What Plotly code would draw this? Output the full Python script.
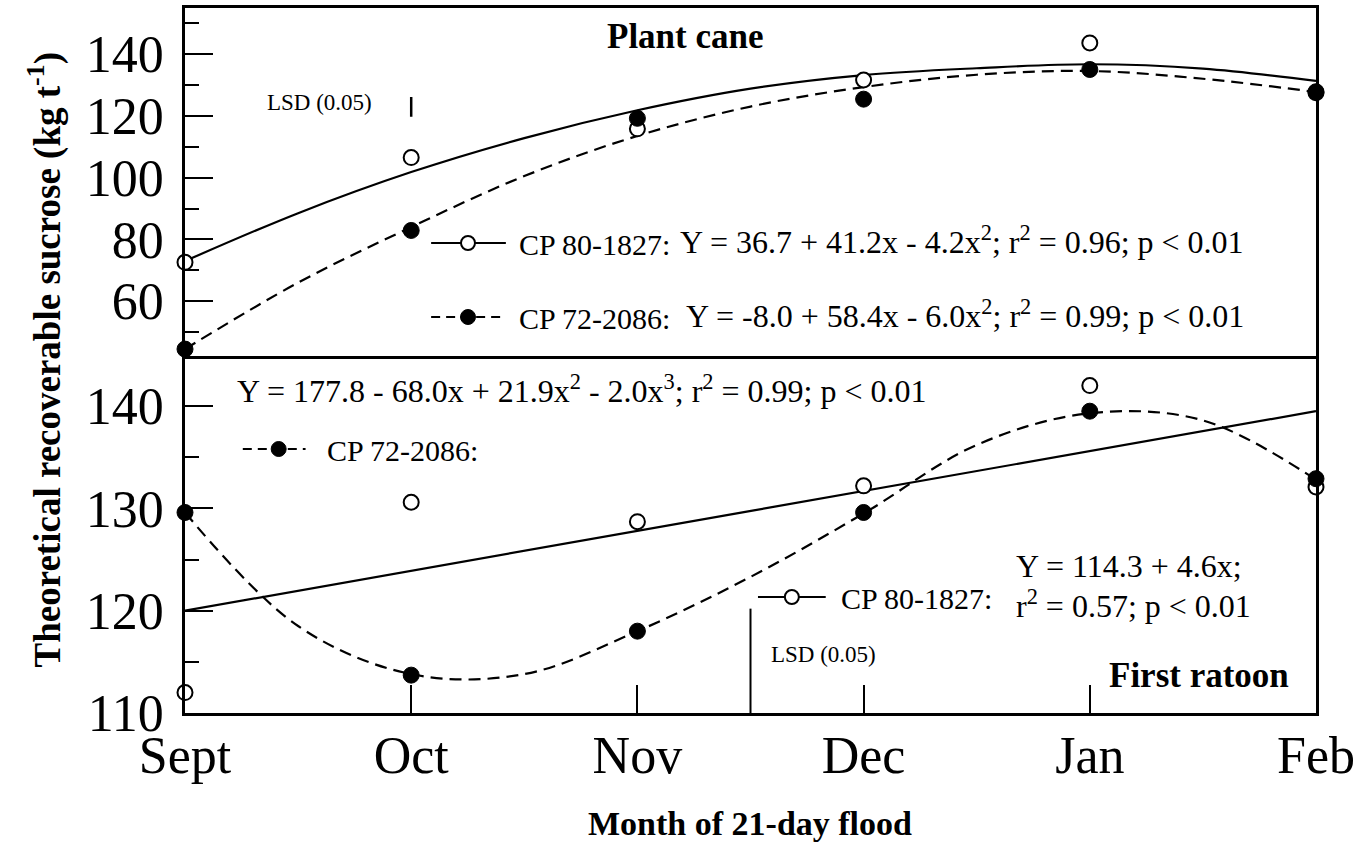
import plotly.graph_objects as go
from plotly.subplots import make_subplots

# ---------------- data ----------------
months = ["Sept", "Oct", "Nov", "Dec", "Jan", "Feb"]
month_x = [1, 2, 3, 4, 5, 6]

# Plant cane – observed means
pc_cp80 = [72.6, 106.5, 115.8, 131.6, 143.6, 127.5]
pc_cp72 = [44.5, 82.9, 119.2, 125.4, 135.0, 127.8]

# fitted curves, read at half-month steps
fit_x = [1, 1.5, 2, 2.5, 3, 3.5, 4, 4.5, 5, 5.5, 6]
pc_cp80_fit = [73.0, 88.5, 101.8, 112.8, 121.8, 128.8, 133.2, 135.4, 136.7, 135.3, 131.3]
pc_cp72_fit = [44.5, 66.0, 84.0, 100.5, 113.5, 123.0, 129.3, 133.3, 134.5, 132.0, 127.7]

# First ratoon – observed means
fr_cp80 = [112.0, 130.6, 128.7, 132.2, 142.0, 132.1]
fr_cp72 = [129.6, 113.7, 118.0, 129.6, 139.5, 132.9]

fr_cp80_fit_x = [1, 6]
fr_cp80_fit = [120.0, 139.5]
fr_cp72_fit = [129.6, 118.5, 113.8, 113.8, 118.0, 123.3, 129.5, 136.2, 139.3, 138.6, 132.8]

# LSD (0.05) bars
lsd_top_x = [2, 2]
lsd_top_y = [119.7, 126.1]
lsd_bot_x = [3.5, 3.5]
lsd_bot_y = [110.0, 120.2]

# y tick values
top_major = [60, 80, 100, 120, 140]
top_minor = [50, 70, 90, 110, 130, 150]
bot_major = [110, 120, 130, 140]
bot_minor = [115, 125, 135]

# text
eq_pc_cp80 = "Y = 36.7 + 41.2x - 4.2x<sup>2</sup>; r<sup>2</sup> = 0.96; p < 0.01"
eq_pc_cp72 = "Y = -8.0 + 58.4x - 6.0x<sup>2</sup>; r<sup>2</sup> = 0.99; p < 0.01"
eq_fr_cp72 = "Y = 177.8 - 68.0x + 21.9x<sup>2</sup> - 2.0x<sup>3</sup>; r<sup>2</sup> = 0.99; p < 0.01"
eq_fr_cp80_a = "Y = 114.3 + 4.6x;"
eq_fr_cp80_b = "r<sup>2</sup> = 0.57; p < 0.01"
name_cp80 = "CP 80-1827:"
name_cp72 = "CP 72-2086:"

FONT = "Liberation Serif, Times New Roman, serif"
BLACK = "black"
DASH = "12px,7px"

W, H = 1363, 842
PLOT_L, PLOT_R, PLOT_T, PLOT_B = 185, 1320, 8, 713   # pixels

def px_x(p):
    return (p - PLOT_L) / (PLOT_R - PLOT_L)

def px_y(p):
    return (PLOT_B - p) / (PLOT_B - PLOT_T)

fig = make_subplots(rows=2, cols=1, vertical_spacing=0.0)

open_marker = dict(symbol="circle", size=15, color="white", line=dict(color=BLACK, width=2))
fill_marker = dict(symbol="circle", size=16, color=BLACK, line=dict(color=BLACK, width=1))
solid_line = dict(color=BLACK, width=2.2, shape="spline", smoothing=1.0)
dash_line = dict(color=BLACK, width=2.2, dash=DASH, shape="spline", smoothing=1.0)

# ---- top panel (plant cane)
fig.add_trace(go.Scatter(x=fit_x, y=pc_cp80_fit, mode="lines", line=solid_line,
                         showlegend=False, hoverinfo="skip"), row=1, col=1)
fig.add_trace(go.Scatter(x=fit_x, y=pc_cp72_fit, mode="lines", line=dash_line,
                         showlegend=False, hoverinfo="skip"), row=1, col=1)
fig.add_trace(go.Scatter(x=month_x, y=pc_cp80, mode="markers", marker=open_marker,
                         cliponaxis=False, showlegend=False), row=1, col=1)
fig.add_trace(go.Scatter(x=month_x, y=pc_cp72, mode="markers", marker=fill_marker,
                         cliponaxis=False, showlegend=False), row=1, col=1)
fig.add_trace(go.Scatter(x=lsd_top_x, y=lsd_top_y, mode="lines",
                         line=dict(color=BLACK, width=2.5), showlegend=False), row=1, col=1)

# ---- bottom panel (first ratoon)
fig.add_trace(go.Scatter(x=fr_cp80_fit_x, y=fr_cp80_fit, mode="lines",
                         line=dict(color=BLACK, width=2.2), showlegend=False), row=2, col=1)
fig.add_trace(go.Scatter(x=fit_x, y=fr_cp72_fit, mode="lines", line=dash_line,
                         showlegend=False), row=2, col=1)
fig.add_trace(go.Scatter(x=month_x, y=fr_cp80, mode="markers", marker=open_marker,
                         cliponaxis=False, showlegend=False), row=2, col=1)
fig.add_trace(go.Scatter(x=month_x, y=fr_cp72, mode="markers", marker=fill_marker,
                         cliponaxis=False, showlegend=False), row=2, col=1)
fig.add_trace(go.Scatter(x=lsd_bot_x, y=lsd_bot_y, mode="lines",
                         line=dict(color=BLACK, width=2), showlegend=False), row=2, col=1)

axis_font = dict(family=FONT, size=52, color=BLACK)

fig.update_layout(
    width=W, height=H,
    margin=dict(l=PLOT_L, r=W - PLOT_R, t=PLOT_T, b=H - PLOT_B),
    paper_bgcolor="white", plot_bgcolor="white",
    font=dict(family=FONT, color=BLACK),
    showlegend=False,
)

fig.update_xaxes(range=[1, 6], tickvals=month_x, ticktext=months, showgrid=False,
                 zeroline=False, showline=True, linecolor=BLACK, linewidth=2.5)
fig.update_xaxes(row=1, col=1, side="top", mirror=False, showticklabels=False, ticks="")
fig.update_xaxes(row=2, col=1, mirror=True, ticks="inside", ticklen=28, tickwidth=1.5,
                 tickcolor=BLACK, tickfont=axis_font, ticklabelstandoff=-5)

yax = dict(showline=True, linecolor=BLACK, linewidth=2.5, mirror=True, showgrid=False,
           zeroline=False, ticks="inside", ticklen=28, tickwidth=1.5, tickcolor=BLACK,
           tickfont=axis_font, ticklabelstandoff=8)
fig.update_yaxes(row=1, col=1, domain=[px_y(359), 1.0], range=[41.3, 154.9],
                 tickvals=top_major,
                 minor=dict(tickvals=top_minor, ticks="inside", ticklen=14, tickwidth=1.5,
                            tickcolor=BLACK), **yax)
fig.update_yaxes(row=2, col=1, domain=[0.0, px_y(359)], range=[110, 144.6],
                 tickvals=bot_major,
                 minor=dict(tickvals=bot_minor, ticks="inside", ticklen=14, tickwidth=1.5,
                            tickcolor=BLACK), **yax)

# ---- legend keys (line sample + symbol), drawn in paper space
def legend_key(x0, x1, xm, y, filled, dashed):
    fig.add_shape(type="line", xref="paper", yref="paper", x0=px_x(x0), x1=px_x(x1),
                  y0=px_y(y), y1=px_y(y),
                  line=dict(color=BLACK, width=2, dash=("9px,6px" if dashed else "solid")))
    r = 7.5 if filled else 7
    fig.add_shape(type="circle", xref="paper", yref="paper", xsizemode="pixel",
                  ysizemode="pixel", xanchor=px_x(xm), yanchor=px_y(y),
                  x0=-r, x1=r, y0=-r, y1=r,
                  fillcolor=BLACK if filled else "white",
                  line=dict(color=BLACK, width=2 if not filled else 1))

legend_key(432, 507, 469, 243, False, False)
legend_key(432, 507, 469, 317, True, True)
legend_key(243, 306, 279, 449, True, True)
legend_key(760, 828, 794, 597, False, False)

def ann(text, x, y, size, xanchor="left", yanchor="middle", bold=False, textangle=0):
    t = f"<b>{text}</b>" if bold else text
    fig.add_annotation(text=t, x=x, y=y, xref="paper", yref="paper", showarrow=False,
                       xanchor=xanchor, yanchor=yanchor, textangle=textangle,
                       font=dict(family=FONT, size=size, color=BLACK))

ann(name_cp80, px_x(518), px_y(244), 30)
ann(name_cp72, px_x(518), px_y(318), 30)
ann(name_cp72, px_x(325), px_y(450), 30)
ann(name_cp80, px_x(841), px_y(598), 30)

ann(eq_pc_cp80, px_x(1250), px_y(240), 32, xanchor="right")
ann(eq_pc_cp72, px_x(1250), px_y(314), 32, xanchor="right")
ann(eq_fr_cp72, px_x(235), px_y(389), 32)
ann(eq_fr_cp80_a, px_x(1017), px_y(566), 32)
ann(eq_fr_cp80_b, px_x(1017), px_y(604), 32)
ann("Plant cane", px_x(687), px_y(37), 35, xanchor="center", bold=True)
ann("First ratoon", px_x(1203), px_y(675), 35, xanchor="center", bold=True)
ann("LSD (0.05)", px_x(320), px_y(103), 23, xanchor="center")
ann("LSD (0.05)", px_x(826), px_y(654), 23, xanchor="center")
ann("Month of 21-day flood", px_x(752), px_y(823), 34, xanchor="center", bold=True)
ann("Theoretical recoverable sucrose (kg t<sup>-1</sup>)", px_x(45), px_y(360), 37,
    xanchor="center", bold=True, textangle=-90)

fig.write_html("out.html",
               config={"displayModeBar": False},
               post_script="document.body.style.margin='0';"
                           "document.body.style.overflow='hidden';")
